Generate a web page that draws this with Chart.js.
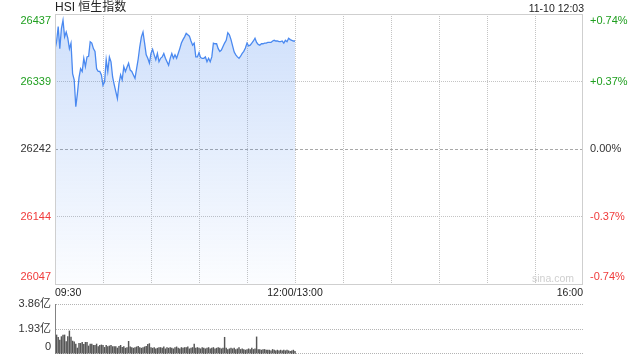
<!DOCTYPE html>
<html>
<head>
<meta charset="utf-8">
<script src="https://cdn.jsdelivr.net/npm/chart.js@4/dist/chart.umd.min.js"></script>
<style>
  html, body { margin: 0; padding: 0; background: #fff; }
  #wrap { position: relative; width: 640px; height: 360px; font-family: "Liberation Sans", "Noto Sans CJK SC", sans-serif; }
  #main { position: absolute; left: 0; top: 0; }
  #vol { position: absolute; left: 0; top: 290px; }
  .title { position: absolute; left: 55px; top: 0; font-size: 12px; line-height: 15px; color: #222; }
  .stamp { position: absolute; right: 56px; top: 1px; font-size: 10.5px; line-height: 14px; color: #222; }
  .mark { position: absolute; left: 532px; top: 272px; font-size: 10.5px; line-height: 13px; color: #cfcfcf; }
</style>
</head>
<body>
<div id="wrap">
  <canvas id="main" width="640" height="300"></canvas>
  <canvas id="vol" width="640" height="70"></canvas>
  <div class="title">HSI 恒生指数</div>
  <div class="stamp">11-10 12:03</div>
  <div class="mark">sina.com</div>
</div>
<script>
// previous close, y ticks and their % labels
var prevClose = 26242;
var priceTicks = [26047, 26144, 26242, 26339, 26437];
var pctLabels = ['-0.74%', '-0.37%', '0.00%', '+0.37%', '+0.74%'];

// minutes since 09:30 (13:00 follows 12:00 directly)
var gridMinutes = [0, 30, 60, 90, 120, 150, 180, 210, 240, 270, 300, 330];
var timeTicks = [0, 150, 330];
var timeLabels = ['09:30', '12:00/13:00', '16:00'];

var volTicks = [0, 1.93, 3.86];
var volLabels = ['0', '1.93亿', '3.86亿'];

// one value per minute, 09:30 - 12:00
var prices = [
  26386, 26397, 26419, 26387, 26416, 26428, 26404, 26411, 26402, 26387,
  26395, 26351, 26342, 26303, 26322, 26345, 26358, 26354, 26373, 26361,
  26375, 26376, 26397, 26395, 26387, 26383, 26358, 26354, 26354, 26349,
  26334, 26339, 26371, 26354, 26375, 26368, 26346, 26335, 26325, 26315,
  26337, 26349, 26342, 26361, 26354, 26360, 26366, 26356, 26354, 26349,
  26344, 26358, 26372, 26390, 26404, 26411, 26395, 26378, 26373, 26366,
  26380, 26386, 26378, 26371, 26380, 26368, 26373, 26375, 26380, 26373,
  26368, 26363, 26373, 26380, 26373, 26378, 26373, 26380, 26387, 26395,
  26400, 26404, 26409, 26407, 26405, 26398, 26392, 26395, 26375, 26375,
  26381, 26374, 26373, 26373, 26375, 26368, 26373, 26368, 26375, 26395,
  26394, 26394, 26387, 26383, 26385, 26390, 26395, 26399, 26410, 26407,
  26400, 26391, 26382, 26378, 26375, 26373, 26376, 26380, 26383, 26388,
  26395, 26391, 26392, 26395, 26398, 26402, 26396, 26393, 26392, 26394,
  26394, 26395, 26395, 26396, 26396, 26396, 26398, 26399, 26398, 26398,
  26397, 26397, 26398, 26395, 26399, 26397, 26402, 26400, 26399, 26398,
  26398
];

// volume, 亿
var volumes = [
  3.86, 1.47, 1.29, 1.08, 1.34, 1.47, 1.47, 0.95, 1.34, 1.78,
  1.30, 1.00, 0.93, 0.77, 0.46, 0.82, 0.82, 0.90, 0.75, 0.90,
  0.90, 0.62, 0.77, 0.77, 0.67, 0.67, 0.77, 0.57, 0.67, 0.70,
  0.67, 0.51, 0.67, 0.57, 0.62, 0.67, 0.57, 0.57, 0.57, 0.46,
  0.60, 0.67, 0.51, 0.57, 0.45, 0.50, 0.98, 0.55, 0.50, 0.45,
  0.50, 0.55, 0.60, 0.50, 0.45, 0.50, 0.55, 0.60, 0.75, 0.80,
  0.50, 0.45, 0.50, 0.40, 0.45, 0.50, 0.50, 0.45, 0.55, 0.40,
  0.50, 0.45, 0.50, 0.45, 0.40, 0.50, 0.55, 0.45, 0.40, 0.50,
  0.45, 0.50, 0.50, 0.55, 0.40, 0.45, 0.50, 0.77, 0.45, 0.50,
  0.45, 0.40, 0.50, 0.45, 0.40, 0.45, 0.50, 0.40, 0.45, 0.50,
  0.40, 0.45, 0.50, 0.45, 0.40, 0.45, 1.29, 0.45, 0.35, 0.40,
  0.45, 0.40, 0.45, 0.35, 0.40, 0.50, 0.35, 0.40, 0.35, 0.30,
  0.35, 0.40, 0.35, 0.45, 0.35, 0.40, 1.32, 0.35, 0.35, 0.30,
  0.35, 0.35, 0.30, 0.30, 0.30, 0.25, 0.35, 0.30, 0.25, 0.30,
  0.25, 0.30, 0.25, 0.30, 0.25, 0.30, 0.25, 0.20, 0.25, 0.30,
  0.20
];

Chart.defaults.font.family = '"Liberation Sans", "Noto Sans CJK SC", sans-serif';

var upColor = '#1f9f1f', downColor = '#f03b3b', flatColor = '#333';
var gridColor = '#c4c4c4';

function tickColor(v) {
  return v > prevClose ? upColor : v < prevClose ? downColor : flatColor;
}

// top label sits under the top edge, bottom label above the bottom edge
function edgeLabel(text, v, min, max) {
  if (v === max) return ['', text];
  if (v === min) return [text, ''];
  return text;
}

// fixed box size, no extra room for edge labels
function fitBox(w, h) {
  return function (s) {
    if (w != null) s.width = w;
    if (h != null) s.height = h;
    s.paddingTop = s.paddingBottom = s.paddingLeft = s.paddingRight = 0;
  };
}

var frame = {
  id: 'frame',
  afterDraw: function (chart) {
    var a = chart.chartArea, ctx = chart.ctx;
    ctx.save();
    ctx.strokeStyle = '#cfcfcf';
    ctx.lineWidth = 1;
    ctx.strokeRect(a.left + 0.5, a.top + 0.5, a.right - a.left - 1, a.bottom - a.top);
    ctx.restore();
  }
};

// dotted level lines of the volume panel, placed by its y scale
var volGrid = {
  id: 'volGrid',
  afterDraw: function (chart) {
    var a = chart.chartArea, ctx = chart.ctx, ys = chart.scales.y;
    ctx.save();
    ctx.fillStyle = '#b4b4b4';
    volTicks.forEach(function (v) {
      var y = Math.round(ys.getPixelForValue(v));
      if (v === vMin) y -= 1;
      for (var x = Math.round(a.left) + 1; x < a.right; x += 2) {
        ctx.fillRect(x, y, 1, 1);
      }
    });
    ctx.restore();
  }
};

var pMin = priceTicks[0], pMax = priceTicks[priceTicks.length - 1];

var mainChart = new Chart(document.getElementById('main'), {
  type: 'line',
  data: {
    datasets: [{
      data: prices.map((v, i) => ({ x: i, y: v })),
      borderColor: '#4a89f0',
      borderWidth: 1.3,
      pointRadius: 0,
      tension: 0,
      fill: 'start',
      backgroundColor: function (c) {
        var a = c.chart.chartArea;
        if (!a) return 'rgba(74,137,240,0.2)';
        var g = c.chart.ctx.createLinearGradient(0, a.top, 0, a.bottom);
        g.addColorStop(0, 'rgba(74,137,240,0.27)');
        g.addColorStop(1, 'rgba(74,137,240,0.02)');
        return g;
      }
    }]
  },
  options: {
    responsive: false,
    animation: false,
    layout: { padding: { top: 14, left: 0, right: 0, bottom: 0 } },
    plugins: { legend: { display: false }, tooltip: { enabled: false } },
    scales: {
      x: {
        type: 'linear',
        min: 0,
        max: 330,
        afterBuildTicks: s => { s.ticks = gridMinutes.map(v => ({ value: v })); },
        afterFit: fitBox(null, 16),
        grid: {
          drawTicks: false,
          color: c => (c.index === 0 || c.index === gridMinutes.length - 1) ? 'rgba(0,0,0,0)' : gridColor
        },
        border: { display: false, dash: [1, 1] },
        ticks: {
          autoSkip: false,
          maxRotation: 0,
          align: 'inner',
          padding: 3,
          color: '#222',
          font: { size: 10.5 },
          callback: function (v) {
            var k = timeTicks.indexOf(v);
            return k < 0 ? '' : timeLabels[k];
          }
        }
      },
      y: {
        position: 'left',
        min: pMin,
        max: pMax,
        afterBuildTicks: s => { s.ticks = priceTicks.map(v => ({ value: v })); },
        afterFit: fitBox(55, null),
        grid: {
          drawTicks: false,
          color: c => (c.tick.value === pMin || c.tick.value === pMax) ? 'rgba(0,0,0,0)'
            : c.tick.value === prevClose ? '#a8a8a8' : gridColor
        },
        border: {
          display: false,
          dash: c => (c.tick && c.tick.value === prevClose) ? [3, 2] : [1, 1]
        },
        ticks: {
          autoSkip: false,
          padding: 4,
          font: { size: 11 },
          color: c => tickColor(c.tick.value),
          callback: v => edgeLabel(String(v), v, pMin, pMax)
        }
      },
      y2: {
        position: 'right',
        min: pMin,
        max: pMax,
        afterBuildTicks: s => { s.ticks = priceTicks.map(v => ({ value: v })); },
        afterFit: fitBox(57, null),
        grid: { display: false, drawTicks: false },
        border: { display: false },
        ticks: {
          autoSkip: false,
          padding: 7,
          font: { size: 11 },
          color: c => tickColor(c.tick.value),
          callback: v => edgeLabel(pctLabels[priceTicks.indexOf(v)], v, pMin, pMax)
        }
      }
    }
  },
  plugins: [frame]
});

var vMin = volTicks[0], vMax = volTicks[volTicks.length - 1];

var volChart = new Chart(document.getElementById('vol'), {
  type: 'bar',
  data: {
    datasets: [{
      data: volumes.map((v, i) => ({ x: i, y: v })),
      backgroundColor: '#555',
      barThickness: 0.8
    }]
  },
  options: {
    responsive: false,
    animation: false,
    layout: { padding: { top: 14, bottom: 6, left: 0, right: 57 } },
    plugins: { legend: { display: false }, tooltip: { enabled: false } },
    scales: {
      x: { type: 'linear', min: 0, max: 330, offset: false, display: false },
      y: {
        position: 'left',
        min: vMin,
        max: vMax,
        afterBuildTicks: s => { s.ticks = volTicks.map(v => ({ value: v })); },
        afterFit: fitBox(55, null),
        grid: { display: false, drawTicks: false },
        border: { display: false },
        ticks: {
          autoSkip: false,
          padding: 4,
          font: { size: 11 },
          color: '#333',
          callback: v => edgeLabel(volLabels[volTicks.indexOf(v)], v, vMin, -1)
        }
      }
    }
  },
  plugins: [volGrid]
});
</script>
</body>
</html>
